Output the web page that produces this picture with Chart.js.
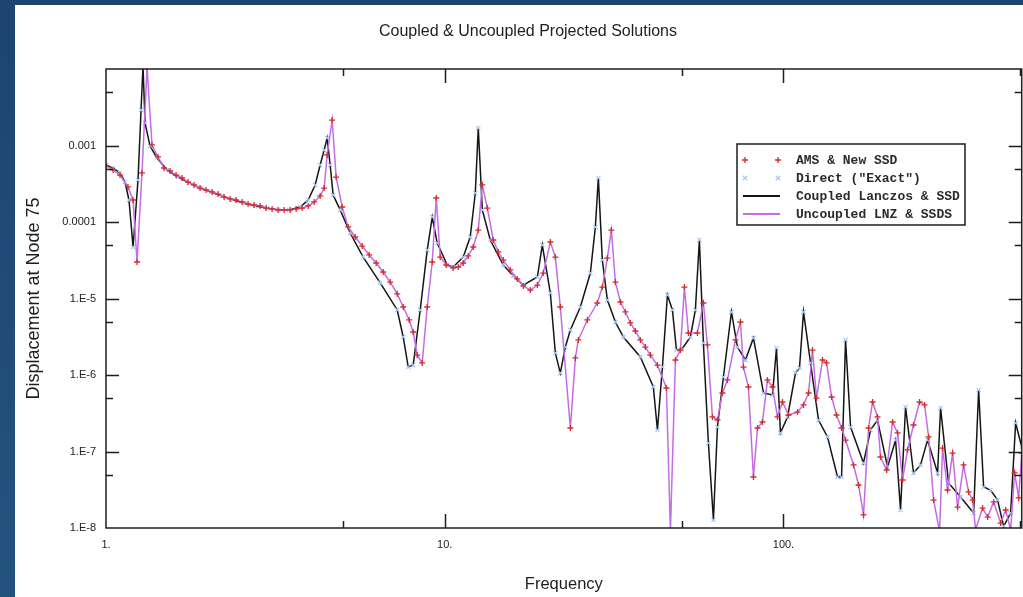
<!DOCTYPE html>
<html>
<head>
<meta charset="utf-8">
<title>Coupled & Uncoupled Projected Solutions</title>
<script src="https://cdn.jsdelivr.net/npm/chart.js@4.4.0/dist/chart.umd.min.js"></script>
<style>
    html, body { margin: 0; padding: 0; }
    body {
        width: 1023px;
        height: 597px;
        overflow: hidden;
        position: relative;
        background: linear-gradient(180deg, #1d4473 0%, #24527f 100%);
    }
    #panel {
        position: absolute;
        left: 15px;
        top: 5px;
        width: 1012px;
        height: 592px;
        background: #ffffff;
    }
</style>
</head>
<body>
<div id="panel"><canvas id="myChart" width="1012" height="592"></canvas></div>
<script>
// Direct ("Exact") solution, the coupled Lanczos curve runs through the same samples
const exactFreq = [
    1.00, 1.049, 1.10, 1.138, 1.169, 1.202, 1.243, 1.269, 1.286, 1.304,
    1.349, 1.415, 1.514, 1.632, 1.759, 1.896, 2.043, 2.201, 2.372, 2.557,
    2.755, 2.990, 3.222, 3.472, 3.742, 3.953, 4.144, 4.288, 4.406, 4.497,
    4.589, 4.684, 4.913, 5.259, 5.743, 6.449, 7.240, 7.541, 7.802, 8.070,
    8.464, 8.878, 9.186, 9.502, 10.17, 10.59, 11.34, 11.89, 12.31, 12.56,
    12.91, 13.63, 14.89, 15.94, 17.06, 18.77, 19.41, 20.50, 21.21, 21.94,
    22.70, 23.49, 25.14, 26.91, 27.84, 28.41, 29.19, 30.21, 31.90, 33.68,
    37.80, 41.29, 42.45, 43.92, 45.44, 47.01, 48.31, 49.95, 53.11, 54.95,
    56.46, 58.02, 60.03, 62.12, 63.83, 66.48, 70.21, 73.13, 77.22, 81.53,
    87.30, 92.80, 95.35, 97.97, 102.8, 108.5, 111.5, 114.6, 120.2, 126.9,
    134.9, 144.4, 148.4, 152.5, 157.8, 172.3, 180.7, 189.5, 202.9, 214.3,
    221.6, 229.3, 242.1, 253.9, 266.3, 285.1, 290.9, 307.2, 333.3, 364.2,
    376.8, 389.8, 408.8, 428.7, 446.6, 468.4, 484.6, 504.9
];
const exactDisp = [
    5.56e-4, 5.08e-4, 4.38e-4, 3.33e-4, 1.94e-4, 4.71e-5, 3.54e-4, 2.91e-3, 1.1e-2, 1.97e-3,
    9.84e-4, 6.87e-4, 4.79e-4, 3.87e-4, 3.24e-4, 2.78e-4, 2.47e-4, 2.19e-4, 1.94e-4, 1.77e-4,
    1.62e-4, 1.52e-4, 1.44e-4, 1.44e-4, 1.57e-4, 1.94e-4, 3.05e-4, 5.56e-4, 8.73e-4, 1.25e-3,
    5.56e-4, 2.25e-4, 1.44e-4, 7.18e-5, 3.48e-5, 1.60e-5, 7.08e-6, 3.14e-6, 1.27e-6, 1.35e-6,
    7.08e-6, 4.30e-5, 1.16e-4, 5.31e-5, 2.74e-5, 2.58e-5, 3.48e-5, 6.37e-5, 2.39e-4, 1.69e-3,
    1.44e-4, 5.82e-5, 2.74e-5, 1.97e-5, 1.50e-5, 1.91e-5, 5.00e-5, 1.18e-5, 1.94e-6, 1.06e-6,
    2.32e-6, 3.87e-6, 7.74e-6, 2.15e-5, 8.61e-5, 3.76e-4, 3.18e-5, 9.55e-6, 4.93e-6, 3.14e-6,
    1.72e-6, 6.97e-7, 1.91e-7, 1.27e-6, 1.11e-5, 7.08e-6, 2.12e-6, 2.12e-6, 3.14e-6, 7.08e-6,
    5.82e-5, 2.62e-6, 1.29e-7, 1.27e-8, 2.09e-7, 9.42e-7, 6.67e-6, 2.32e-6, 1.57e-6, 3.05e-6,
    5.82e-7, 5.48e-7, 2.25e-6, 1.75e-7, 2.83e-7, 1.06e-6, 1.24e-6, 6.67e-6, 1.44e-6, 2.58e-7,
    1.55e-7, 4.64e-8, 4.64e-8, 2.87e-6, 2.09e-7, 7.08e-8, 1.91e-7, 2.58e-7, 6.27e-8, 1.41e-7,
    1.72e-8, 3.82e-7, 5.24e-8, 6.67e-8, 1.41e-7, 5.24e-8, 3.71e-7, 3.87e-8, 2.54e-8, 1.57e-8,
    6.37e-7, 3.44e-8, 3.14e-8, 2.32e-8, 1.05e-8, 1.57e-8, 2.36e-7, 1.15e-7
];

// AMS & New SSD, the uncoupled LNZ curve runs through the same samples
const amsFreq = [
    1.00, 1.049, 1.10, 1.161, 1.202, 1.235, 1.277, 1.322, 1.367, 1.424,
    1.483, 1.546, 1.610, 1.677, 1.747, 1.820, 1.896, 1.974, 2.057, 2.142,
    2.232, 2.325, 2.421, 2.522, 2.627, 2.737, 2.851, 2.970, 3.093, 3.222,
    3.357, 3.496, 3.642, 3.794, 3.953, 4.117, 4.288, 4.406, 4.497, 4.652,
    4.780, 4.980, 5.187, 5.44, 5.705, 5.984, 6.276, 6.582, 6.902, 7.240,
    7.541, 7.855, 8.070, 8.293, 8.579, 8.878, 9.186, 9.438, 9.698, 10.10,
    10.59, 10.96, 11.34, 11.73, 12.14, 12.56, 12.91, 13.36, 13.91, 14.39,
    14.89, 15.61, 16.37, 17.06, 17.89, 18.77, 19.54, 20.50, 21.21, 21.94,
    23.49, 24.30, 24.80, 26.36, 28.21, 29.19, 30.21, 31.04, 31.90, 33.01,
    34.15, 35.32, 36.54, 37.80, 39.11, 40.46, 42.45, 45.12, 46.37, 47.97,
    49.63, 51.00, 52.41, 55.70, 58.02, 59.63, 61.70, 63.83, 66.04, 68.33,
    72.15, 74.64, 76.18, 78.81, 81.53, 83.80, 86.70, 89.70, 92.80, 96.01,
    99.32, 103.5, 110.0, 114.6, 118.6, 121.8, 125.2, 130.4, 134.0, 138.7,
    143.4, 148.4, 152.5, 161.0, 166.6, 172.3, 178.3, 183.2, 189.5, 193.4,
    201.6, 209.9, 217.2, 224.7, 232.4, 242.1, 252.2, 261.0, 268.2, 277.5,
    289.0, 294.9, 305.1, 315.7, 326.6, 340.2, 351.9, 361.6, 369.1, 387.0,
    400.6, 417.3, 437.7, 452.8, 468.4, 481.4, 494.6, 505.0
];
const amsDisp = [
    5.40e-4, 4.79e-4, 4.11e-4, 2.87e-4, 1.94e-4, 3.00e-5, 4.38e-4, 1.05e-2, 1.02e-3, 7.08e-4,
    5.08e-4, 4.64e-4, 4.11e-4, 3.76e-4, 3.33e-4, 3.05e-4, 2.78e-4, 2.62e-4, 2.47e-4, 2.32e-4,
    2.12e-4, 2.00e-4, 1.94e-4, 1.83e-4, 1.72e-4, 1.67e-4, 1.62e-4, 1.52e-4, 1.48e-4, 1.44e-4,
    1.44e-4, 1.44e-4, 1.48e-4, 1.52e-4, 1.62e-4, 1.83e-4, 2.19e-4, 2.78e-4, 7.52e-4, 2.15e-3,
    3.87e-4, 1.57e-4, 8.61e-5, 6.37e-5, 4.85e-5, 3.71e-5, 2.91e-5, 2.22e-5, 1.64e-5, 1.15e-5,
    7.74e-6, 5.24e-6, 3.65e-6, 1.82e-6, 1.44e-6, 7.74e-6, 3.00e-5, 2.06e-4, 3.48e-5, 2.74e-5,
    2.51e-5, 2.58e-5, 2.91e-5, 3.60e-5, 4.71e-5, 7.85e-5, 3.05e-4, 1.52e-4, 5.82e-5, 4.06e-5,
    3.18e-5, 2.36e-5, 1.80e-5, 1.46e-5, 1.29e-5, 1.50e-5, 2.15e-5, 5.48e-5, 3.48e-5, 7.74e-6,
    2.03e-7, 1.67e-6, 2.87e-6, 5.24e-6, 8.73e-6, 1.41e-5, 3.38e-5, 7.85e-5, 1.64e-5, 9.00e-6,
    6.67e-6, 4.79e-6, 3.76e-6, 2.87e-6, 2.32e-6, 1.82e-6, 1.35e-6, 6.76e-7, 9.0e-9, 1.57e-6,
    2.12e-6, 1.41e-5, 3.54e-6, 3.54e-6, 8.73e-6, 2.47e-6, 2.83e-7, 2.58e-7, 5.82e-7, 8.61e-7,
    2.87e-6, 4.93e-6, 1.27e-6, 6.97e-7, 4.64e-8, 2.03e-7, 2.43e-7, 8.61e-7, 6.97e-7, 2.83e-7,
    4.44e-7, 3.00e-7, 3.28e-7, 4.06e-7, 5.82e-7, 2.12e-6, 5.00e-7, 1.57e-6, 1.44e-6, 5.16e-7,
    3.00e-7, 2.03e-7, 1.41e-7, 6.67e-8, 3.65e-8, 1.48e-8, 2.03e-7, 4.44e-7, 2.83e-7, 8.47e-8,
    5.73e-8, 2.43e-7, 1.75e-7, 4.24e-8, 1.05e-7, 2.22e-7, 4.44e-7, 4.06e-7, 1.55e-7, 2.32e-8,
    9.0e-9, 1.11e-7, 3.14e-8, 9.55e-8, 1.88e-8, 6.67e-8, 2.96e-8, 2.32e-8, 9.5e-9, 1.82e-8,
    1.39e-8, 2.19e-8, 1.16e-8, 1.72e-8, 9.5e-9, 5.24e-8, 2.47e-8, 9.55e-8
];

// axes
const xTickValues = [1, 10, 100];
const xTickLabels = ['1.', '10.', '100.'];
const yTickValues = [1e-8, 1e-7, 1e-6, 1e-5, 1e-4, 1e-3];
const yTickLabels = ['1.E-8', '1.E-7', '1.E-6', '1.E-5', '0.0001', '0.001'];
const xMajorMarks = [10, 100];
const xMinorMarks = [5, 50, 500];
const yMajorMarks = [1e-7, 1e-6, 1e-5, 1e-4, 1e-3];
const yMinorMarks = [5e-8, 5e-7, 5e-6, 5e-5, 5e-4, 5e-3];

const sansFont = '"Liberation Sans", Arial, sans-serif';
const monoFont = '"Liberation Mono", "Courier New", monospace';

const toPoints = (xs, ys) => xs.map((x, i) => ({ x: x, y: ys[i] }));

// box round the plot with the tick marks pointing inwards, plus title and legend
const framePlugin = {
    id: 'frame',
    afterDatasetsDraw(chart) {
        const { ctx, chartArea: a, scales } = chart;
        const x = scales.x, y = scales.y;
        ctx.save();
        ctx.strokeStyle = '#1e1e1e';
        ctx.lineWidth = 1.5;
        ctx.strokeRect(a.left, a.top, a.right - a.left, a.bottom - a.top);
        ctx.beginPath();
        const yMark = (v, len) => {
            const p = Math.round(y.getPixelForValue(v)) + 0.5;
            ctx.moveTo(a.left, p); ctx.lineTo(a.left + len, p);
            ctx.moveTo(a.right, p); ctx.lineTo(a.right - len, p);
        };
        const xMark = (v, len) => {
            const p = Math.round(x.getPixelForValue(v)) + 0.5;
            ctx.moveTo(p, a.bottom); ctx.lineTo(p, a.bottom - len);
            ctx.moveTo(p, a.top); ctx.lineTo(p, a.top + len);
        };
        yMajorMarks.forEach(v => yMark(v, 13));
        yMinorMarks.forEach(v => yMark(v, 7));
        xMajorMarks.forEach(v => xMark(v, 14));
        xMinorMarks.forEach(v => xMark(v, 7));
        ctx.stroke();
        ctx.restore();
    },
    afterDraw(chart) {
        const ctx = chart.ctx;
        ctx.save();
        ctx.fillStyle = '#1e1e1e';
        ctx.font = '16px ' + sansFont;
        ctx.textAlign = 'center';
        ctx.textBaseline = 'middle';
        ctx.fillText('Coupled & Uncoupled Projected Solutions', 513, 27);

        const bx = 722, by = 139, bw = 228, bh = 81;
        ctx.fillStyle = '#ffffff';
        ctx.fillRect(bx, by, bw, bh);
        ctx.strokeStyle = '#1e1e1e';
        ctx.lineWidth = 1.5;
        ctx.strokeRect(bx, by, bw, bh);
        ctx.font = 'bold 13px ' + monoFont;
        ctx.textAlign = 'left';
        ctx.textBaseline = 'middle';
        chart.data.datasets.forEach((ds, row) => {
            const cy = by + 16 + row * 18;
            if (ds.showLine === false) {
                ctx.strokeStyle = ds.pointBorderColor;
                ctx.lineWidth = ds.pointBorderWidth;
                [bx + 8, bx + 41].forEach(cx => {
                    const r = ds.pointRadius;
                    ctx.beginPath();
                    if (ds.pointStyle === 'cross') {
                        ctx.moveTo(cx - r, cy); ctx.lineTo(cx + r, cy);
                        ctx.moveTo(cx, cy - r); ctx.lineTo(cx, cy + r);
                    } else {
                        const d = r * 0.75;
                        ctx.moveTo(cx - d, cy - d); ctx.lineTo(cx + d, cy + d);
                        ctx.moveTo(cx - d, cy + d); ctx.lineTo(cx + d, cy - d);
                    }
                    ctx.stroke();
                });
            } else {
                ctx.strokeStyle = ds.borderColor;
                ctx.lineWidth = 1.8;
                ctx.beginPath();
                ctx.moveTo(bx + 6, cy); ctx.lineTo(bx + 43, cy);
                ctx.stroke();
            }
            ctx.fillStyle = '#2a2a2a';
            ctx.fillText(ds.label, bx + 59, cy + 1);
        });
        ctx.restore();
    }
};

const ctx = document.getElementById('myChart').getContext('2d');
const myChart = new Chart(ctx, {
    type: 'line',
    data: {
        datasets: [{
            label: 'AMS & New SSD',
            data: toPoints(amsFreq, amsDisp),
            showLine: false,
            pointStyle: 'cross',
            pointRadius: 3,
            pointBorderWidth: 1.3,
            pointBorderColor: '#d42b2b',
            borderColor: '#d42b2b',
            order: 0
        }, {
            label: 'Direct ("Exact")',
            data: toPoints(exactFreq, exactDisp),
            showLine: false,
            pointStyle: 'crossRot',
            pointRadius: 3,
            pointBorderWidth: 1.1,
            pointBorderColor: '#a3c6f2',
            borderColor: '#a3c6f2',
            order: 2
        }, {
            label: 'Coupled Lanczos & SSD',
            data: toPoints(exactFreq, exactDisp),
            borderColor: '#151515',
            borderWidth: 1.5,
            pointRadius: 0,
            tension: 0,
            order: 3
        }, {
            label: 'Uncoupled LNZ & SSDS',
            data: toPoints(amsFreq, amsDisp),
            borderColor: '#c46ce6',
            borderWidth: 1.5,
            pointRadius: 0,
            tension: 0,
            order: 1
        }]
    },
    options: {
        responsive: false,
        animation: false,
        events: [],
        layout: { padding: { top: 64, right: 2, left: 0, bottom: 0 } },
        plugins: {
            legend: { display: false },
            title: { display: false },
            tooltip: { enabled: false }
        },
        scales: {
            x: {
                type: 'logarithmic',
                min: 1,
                max: 505,
                grid: { display: false, drawTicks: false },
                border: { display: false },
                afterBuildTicks: s => { s.ticks = xTickValues.map(v => ({ value: v })); },
                afterFit: s => { s.height = 69; },
                ticks: {
                    autoSkip: false,
                    maxRotation: 0,
                    padding: 10,
                    color: '#222',
                    font: { family: sansFont, size: 11 },
                    callback: (v, i) => xTickLabels[i]
                },
                title: {
                    display: true,
                    text: 'Frequency',
                    color: '#1e1e1e',
                    font: { family: sansFont, size: 16.5 },
                    padding: { top: 0, bottom: 3 }
                }
            },
            y: {
                type: 'logarithmic',
                min: 1e-8,
                max: 1e-2,
                grid: { display: false, drawTicks: false },
                border: { display: false },
                afterBuildTicks: s => { s.ticks = yTickValues.map(v => ({ value: v })); },
                afterFit: s => { s.width = 91; },
                ticks: {
                    autoSkip: false,
                    padding: 10,
                    color: '#222',
                    font: { family: sansFont, size: 11 },
                    callback: (v, i) => yTickLabels[i]
                },
                title: {
                    display: true,
                    text: 'Displacement at Node 75',
                    color: '#1e1e1e',
                    font: { family: sansFont, size: 18 },
                    padding: { top: 8, bottom: 0 }
                }
            }
        }
    },
    plugins: [framePlugin]
});
</script>
</body>
</html>
